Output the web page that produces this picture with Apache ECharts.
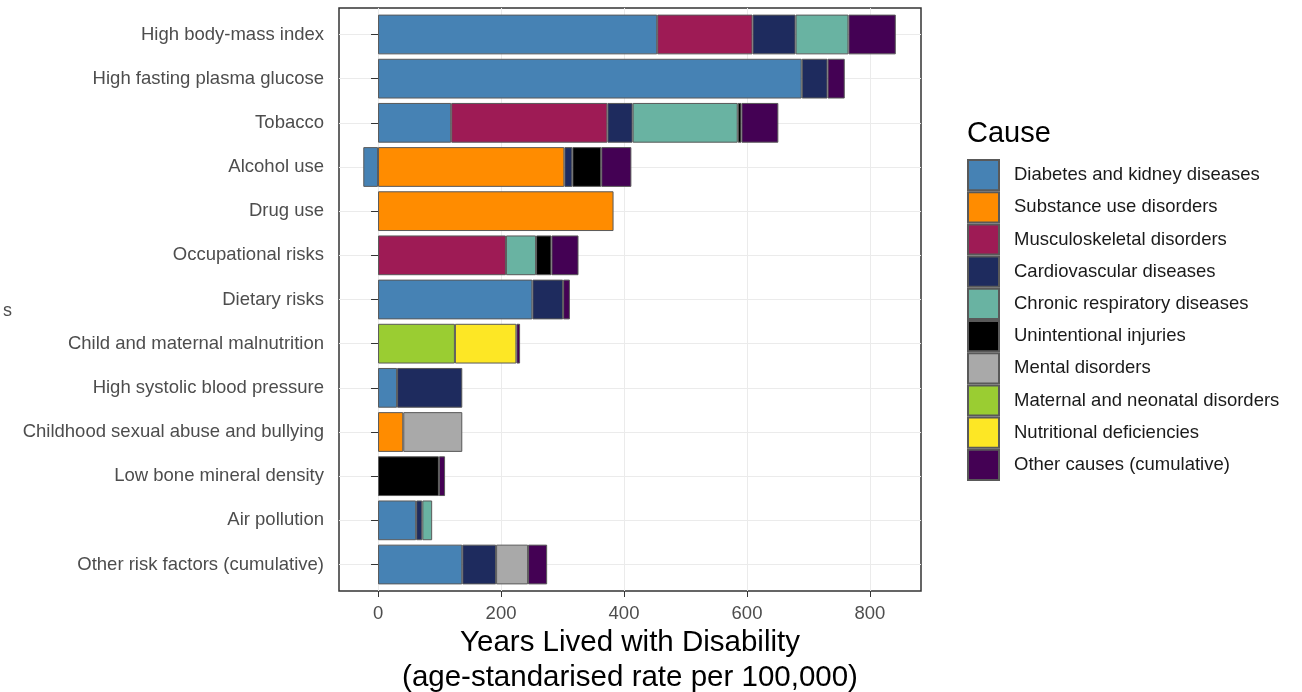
<!DOCTYPE html>
<html><head><meta charset="utf-8">
<script src="https://cdn.jsdelivr.net/npm/echarts@6/dist/echarts.min.js"></script>
<style>html,body{margin:0;padding:0;background:#fff}#c{width:1302px;height:692px}</style>
</head><body><div id="c"></div>
<script>
const riskFactors = ['High body-mass index','High fasting plasma glucose','Tobacco','Alcohol use','Drug use','Occupational risks','Dietary risks','Child and maternal malnutrition','High systolic blood pressure','Childhood sexual abuse and bullying','Low bone mineral density','Air pollution','Other risk factors (cumulative)'];
const causes = ['Diabetes and kidney diseases','Substance use disorders','Musculoskeletal disorders','Cardiovascular diseases','Chronic respiratory diseases','Unintentional injuries','Mental disorders','Maternal and neonatal disorders','Nutritional deficiencies','Other causes (cumulative)'];
const causeColors = ['#4682B4','#FF8C00','#9E1B55','#1E2B5E','#69B3A2','#000000','#A9A9A9','#9ACD32','#FDE725','#440154'];
// values per cause, in risk factor order
const diabetes    = [454, 689, 119, -24, null, null, 251, null, 31, null, null, 62, 137];
const substance   = [null, null, null, 303, 383, null, null, null, null, 41, null, null, null];
const musculo     = [155, null, 254, null, null, 208, null, null, null, null, null, null, null];
const cardio      = [70, 42, 41, 13, null, null, 50, null, 106, null, null, 10, 55];
const chronic     = [86, null, 171, null, null, 49, null, null, null, null, null, 16, null];
const unintent    = [null, null, 6, 47, null, 25, null, null, null, null, 99, null, null];
const mental      = [null, null, null, null, null, null, null, null, null, 96, null, null, 52];
const maternal    = [null, null, null, null, null, null, null, 125, null, null, null, null, null];
const nutritional = [null, null, null, null, null, null, null, 100, null, null, null, null, null];
const otherCauses = [77, 28, 60, 49, null, 44, 11, 6, null, null, 10, null, 31];
const xTicks = [0, 200, 400, 600, 800];
const xMin = -63.5, xMax = 883;

const seriesValues = [diabetes, substance, musculo, cardio, chronic, unintent, mental, maternal, nutritional, otherCauses];
const FONT = 'Liberation Sans, Arial, sans-serif';

const chart = echarts.init(document.getElementById('c'), null, {renderer: 'canvas'});
chart.setOption({
  animation: false,
  textStyle: {fontFamily: FONT},
  title: {text: 'Cause', left: 962, top: 114, textStyle: {fontSize: 29, fontWeight: 'normal', color: '#000', fontFamily: FONT}},
  legend: {
    data: causes, orient: 'vertical', left: 962, top: 154,
    itemWidth: 31, itemHeight: 30.2, itemGap: 0, icon: 'rect', selectedMode: false,
    textStyle: {fontSize: 18.5, color: '#1a1a1a', padding: [0, 0, 0, 10], fontFamily: FONT}
  },
  graphic: [{type: 'text', left: 3, top: 302, style: {text: 's', fontSize: 18, fill: '#4d4d4d', fontFamily: FONT}}],
  grid: [
    {left: 339, right: 381, top: 8, bottom: 101, outerBoundsMode: 'none', containLabel: false, show: true, borderColor: '#333', borderWidth: 1.5, backgroundColor: 'transparent'},
    {left: 339, right: 381, top: 12.4, bottom: 105.4, outerBoundsMode: 'none', containLabel: false}
  ],
  xAxis: [
    {
      type: 'value', gridIndex: 0, min: xMin, max: xMax, splitNumber: 10,
      axisLine: {show: false},
      axisTick: {show: true, length: 6, lineStyle: {color: '#333'}, customValues: xTicks},
      axisLabel: {customValues: xTicks, fontSize: 18.5, color: '#4d4d4d', margin: 13, fontFamily: FONT},
      splitLine: {show: true, lineStyle: {color: '#ebebeb', width: 1}},
      name: 'Years Lived with Disability\n(age-standarised rate per 100,000)',
      nameLocation: 'middle', nameGap: 34, nameMoveOverlap: false,
      nameTextStyle: {fontSize: 29.5, color: '#000', lineHeight: 35, fontFamily: FONT}
    },
    {type: 'value', gridIndex: 1, min: xMin, max: xMax, show: false}
  ],
  yAxis: [
    {type: 'value', gridIndex: 0, min: 0, max: 1, show: false},
    {
      type: 'category', gridIndex: 1, data: riskFactors, inverse: true,
      axisLine: {show: false},
      axisTick: {show: true, length: 7, alignWithLabel: true, lineStyle: {color: '#333'}},
      axisLabel: {fontSize: 18.5, color: '#4d4d4d', margin: 15, fontFamily: FONT},
      splitLine: {show: true, alignWithLabel: true, lineStyle: {color: '#ebebeb', width: 1}}
    }
  ],
  series: causes.map((name, i) => ({
    name, type: 'bar', xAxisIndex: 1, yAxisIndex: 1, stack: 'total', barWidth: '90%',
    data: seriesValues[i],
    itemStyle: {color: causeColors[i], borderColor: '#595959', borderWidth: 1}
  }))
});
</script></body></html>
